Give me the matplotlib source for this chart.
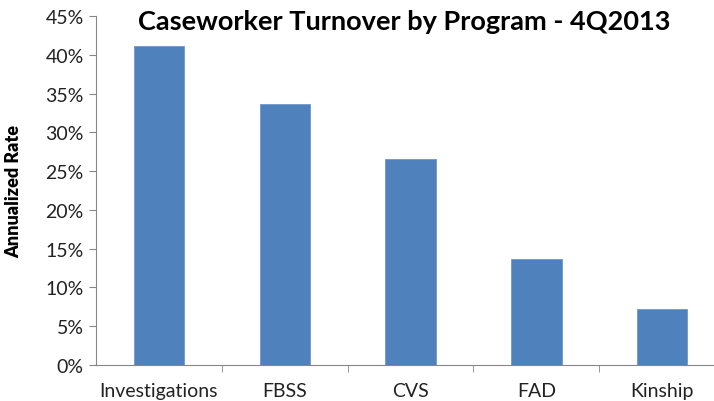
import matplotlib.pyplot as plt
from matplotlib.ticker import PercentFormatter

programs = ["Investigations", "FBSS", "CVS", "FAD", "Kinship"]
rates = [41.2, 33.7, 26.6, 13.7, 7.2]
yticks = [0, 5, 10, 15, 20, 25, 30, 35, 40, 45]

plt.rcParams['font.family'] = ['Lato', 'DejaVu Sans']

fig = plt.figure(figsize=(7.14, 4.02), dpi=100)
# the original is cropped on the right, so the axes run past the figure edge
ax = fig.add_axes([0.1345, 0.0896, 0.881, 0.868])

x = range(len(programs))
ax.bar(x, rates, width=0.4, color="#4F81BD", edgecolor="#6F97C9", linewidth=0.6)

ax.set_xlim(-0.5, len(programs) - 0.5)
ax.set_ylim(0, 45)
ax.set_yticks(yticks)
ax.yaxis.set_major_formatter(PercentFormatter(decimals=0))
ax.set_xticks(x)
ax.set_xticklabels(programs)
# tick marks sit between categories
ax.set_xticks([i + 0.5 for i in range(len(programs) - 1)], minor=True)
ax.tick_params(axis='x', which='major', length=0, pad=12, labelsize=14, labelcolor="#222222")
ax.tick_params(axis='x', which='minor', length=5, color="#868686", direction='out')
ax.tick_params(axis='y', length=5, color="#868686", labelsize=14, pad=4, labelcolor="#222222")

for side in ["top", "right"]:
    ax.spines[side].set_visible(False)
for side in ["left", "bottom"]:
    ax.spines[side].set_color("#868686")

ax.set_ylabel("Annualized Rate", fontsize=13, fontweight='heavy')
ax.yaxis.set_label_coords(-0.117, 0.5)
fig.text(0.566, 0.945, "Caseworker Turnover by Program - 4Q2013",
         ha='center', va='center', fontsize=19.5, fontweight='bold')

fig.savefig("out.png", dpi=100)
